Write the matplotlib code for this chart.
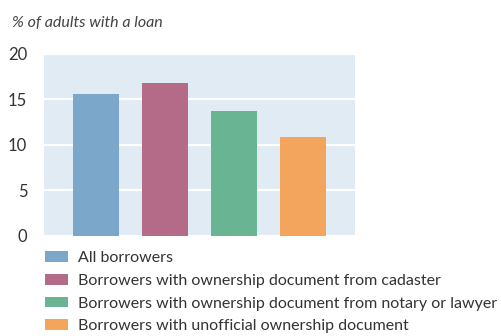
import matplotlib.pyplot as plt
from matplotlib.patches import Patch

plt.rcParams['font.family'] = ['Lato', 'DejaVu Sans']

groups = ['All borrowers',
          'Borrowers with ownership document from cadaster',
          'Borrowers with ownership document from notary or lawyer',
          'Borrowers with unofficial ownership document']
values = [15.6, 16.8, 13.7, 10.8]
colors = ['#7ba7cb', '#b36b88', '#69b593', '#f3a55e']
yticks = [0, 5, 10, 15, 20]

fig = plt.figure(figsize=(5.02, 3.36), dpi=100)
ax = fig.add_axes([44 / 502, 1 - 236 / 336, 311 / 502, 182.5 / 336])
ax.set_facecolor('#e1ebf4')

x = range(len(values))
ax.bar(x, values, width=0.667, color=colors, zorder=3)

ax.set_xlim(-0.754, 3.754)
ax.set_ylim(0, 20)
ax.set_yticks(yticks)
ax.set_xticks([])
ax.yaxis.grid(True, color='white', linewidth=1.6, zorder=1)
ax.tick_params(axis='y', length=0, pad=12, labelsize=12, labelcolor='#333333')
for s in ax.spines.values():
    s.set_visible(False)

fig.text(12 / 502, 1 - 23 / 336, '% of adults with a loan', style='italic',
         fontsize=11.5, color='#444444', va='center')

handles = [Patch(facecolor=c, edgecolor='none') for c in colors]
fig.legend(handles, groups, loc='upper left', bbox_to_anchor=(45 / 502, 1 - 251 / 336),
           frameon=False, fontsize=11.55, handlelength=1.43, handleheight=0.65,
           handletextpad=0.62, labelspacing=0.55, borderpad=0, borderaxespad=0,
           labelcolor='#333333')

fig.savefig('out.png', dpi=100)
